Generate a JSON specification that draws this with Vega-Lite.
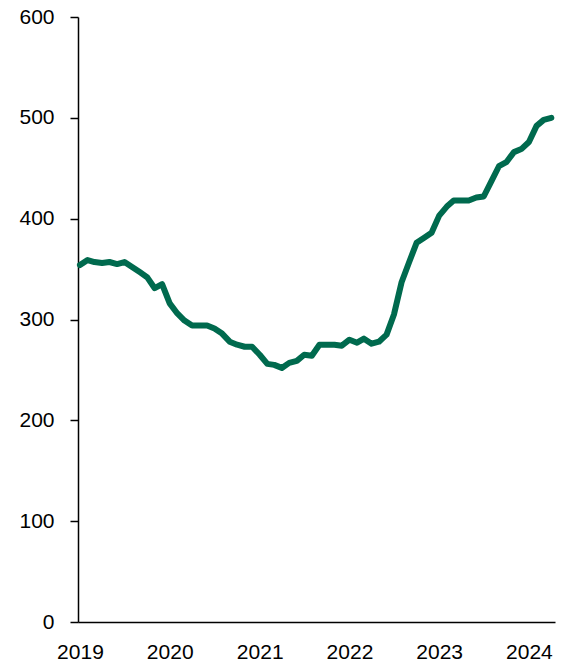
{
  "$schema": "https://vega.github.io/schema/vega-lite/v6.json",
  "width": 477,
  "height": 605,
  "autosize": {"type": "none"},
  "padding": {"left": 78, "top": 17, "right": 6, "bottom": 44},
  "background": "white",
  "config": {"view": {"stroke": null}, "axis": {"grid": false}},
  "data": {"values": [
    {"date": "2019-01-01", "value": 354}, {"date": "2019-02-01", "value": 359}, {"date": "2019-03-01", "value": 357},
    {"date": "2019-04-01", "value": 356}, {"date": "2019-05-01", "value": 357}, {"date": "2019-06-01", "value": 355},
    {"date": "2019-07-01", "value": 357}, {"date": "2019-08-01", "value": 352}, {"date": "2019-09-01", "value": 347},
    {"date": "2019-10-01", "value": 342}, {"date": "2019-11-01", "value": 331}, {"date": "2019-12-01", "value": 335},
    {"date": "2020-01-01", "value": 316}, {"date": "2020-02-01", "value": 306}, {"date": "2020-03-01", "value": 299},
    {"date": "2020-04-01", "value": 294}, {"date": "2020-05-01", "value": 294}, {"date": "2020-06-01", "value": 294},
    {"date": "2020-07-01", "value": 291}, {"date": "2020-08-01", "value": 286}, {"date": "2020-09-01", "value": 278},
    {"date": "2020-10-01", "value": 275}, {"date": "2020-11-01", "value": 273}, {"date": "2020-12-01", "value": 273},
    {"date": "2021-01-01", "value": 265}, {"date": "2021-02-01", "value": 256}, {"date": "2021-03-01", "value": 255},
    {"date": "2021-04-01", "value": 252}, {"date": "2021-05-01", "value": 257}, {"date": "2021-06-01", "value": 259},
    {"date": "2021-07-01", "value": 265}, {"date": "2021-08-01", "value": 264}, {"date": "2021-09-01", "value": 275},
    {"date": "2021-10-01", "value": 275}, {"date": "2021-11-01", "value": 275}, {"date": "2021-12-01", "value": 274},
    {"date": "2022-01-01", "value": 280}, {"date": "2022-02-01", "value": 277}, {"date": "2022-03-01", "value": 281},
    {"date": "2022-04-01", "value": 276}, {"date": "2022-05-01", "value": 278}, {"date": "2022-06-01", "value": 285},
    {"date": "2022-07-01", "value": 305}, {"date": "2022-08-01", "value": 337}, {"date": "2022-09-01", "value": 357},
    {"date": "2022-10-01", "value": 376}, {"date": "2022-11-01", "value": 381}, {"date": "2022-12-01", "value": 386},
    {"date": "2023-01-01", "value": 403}, {"date": "2023-02-01", "value": 412}, {"date": "2023-03-01", "value": 418},
    {"date": "2023-04-01", "value": 418}, {"date": "2023-05-01", "value": 418}, {"date": "2023-06-01", "value": 421},
    {"date": "2023-07-01", "value": 422}, {"date": "2023-08-01", "value": 437}, {"date": "2023-09-01", "value": 452},
    {"date": "2023-10-01", "value": 456}, {"date": "2023-11-01", "value": 466}, {"date": "2023-12-01", "value": 469},
    {"date": "2024-01-01", "value": 476}, {"date": "2024-02-01", "value": 492}, {"date": "2024-03-01", "value": 498},
    {"date": "2024-04-01", "value": 500}
  ]},
  "mark": {"type": "line", "color": "#006A4E", "strokeWidth": 6, "strokeCap": "round", "strokeJoin": "round"},
  "encoding": {
    "x": {
      "field": "date", "type": "temporal",
      "scale": {"domain": ["2018-12-24", "2024-04-16"]},
      "axis": {
        "title": null, "format": "%Y",
        "values": ["2019-01-01", "2020-01-01", "2021-01-01", "2022-01-01", "2023-01-01", "2024-01-01"],
        "ticks": false, "tickSize": 0, "labelPadding": 19, "labelDx": 2,
        "labelFont": "Liberation Sans", "labelFontSize": 21, "labelColor": "#000000",
        "domainColor": "#000000", "domainWidth": 1.5, "labelFlush": false, "labelOverlap": false
      }
    },
    "y": {
      "field": "value", "type": "quantitative",
      "scale": {"domain": [0, 600], "nice": false, "zero": true},
      "axis": {
        "title": null, "values": [0, 100, 200, 300, 400, 500, 600],
        "tickSize": 8, "tickColor": "#000000", "tickWidth": 1.5, "labelPadding": 16,
        "labelFont": "Liberation Sans", "labelFontSize": 21, "labelColor": "#000000",
        "domainColor": "#000000", "domainWidth": 1.5, "labelFlush": false
      }
    }
  }
}
